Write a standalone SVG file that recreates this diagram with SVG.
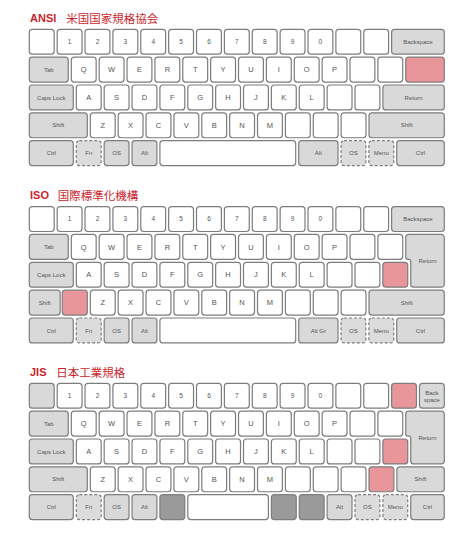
<svg xmlns="http://www.w3.org/2000/svg" width="474" height="549" viewBox="0 0 474 549">
<style>
rect,path{stroke:#7d7d7d;stroke-width:1.2}
rect{rx:3px;ry:3px}
.k{fill:#fff}
.m{fill:#d9d9d9}
.x{fill:#dcdcdc;stroke-dasharray:3 2}
.r{fill:#e8969a}
.d{fill:#9a9a9a}
text{font-family:"Liberation Sans",Arial,sans-serif;fill:#555;text-anchor:middle}
.l{font-size:7.5px}
.n{font-size:6.5px}
.s{font-size:6px}
.h{font-family:"Liberation Sans",Arial,sans-serif;font-weight:bold;font-size:11px;fill:#cc1f2d;text-anchor:start}
.c{font-family:"Noto Sans CJK JP",sans-serif;font-size:11.5px;fill:#cc1f2d;text-anchor:start}
</style>
<rect width="474" height="549" fill="#fff" style="stroke:none"/>

<!-- ================= ANSI ================= -->
<g id="ansi-title"><text class="h" x="30" y="22">ANSI</text><text class="c" x="66.2" y="22.5">米国国家規格協会</text></g>
<g id="ansi">
<g id="a-grave"><rect class="k" x="29.3" y="29.3" width="24.87" height="24.9"/></g>
<g id="a-1"><rect class="k" x="57.17" y="29.3" width="24.87" height="24.9"/><text class="n" x="69.6" y="44.05">1</text></g>
<g id="a-2"><rect class="k" x="85.04" y="29.3" width="24.87" height="24.9"/><text class="n" x="97.47" y="44.05">2</text></g>
<g id="a-3"><rect class="k" x="112.91" y="29.3" width="24.87" height="24.9"/><text class="n" x="125.34" y="44.05">3</text></g>
<g id="a-4"><rect class="k" x="140.78" y="29.3" width="24.87" height="24.9"/><text class="n" x="153.21" y="44.05">4</text></g>
<g id="a-5"><rect class="k" x="168.65" y="29.3" width="24.87" height="24.9"/><text class="n" x="181.08" y="44.05">5</text></g>
<g id="a-6"><rect class="k" x="196.52" y="29.3" width="24.87" height="24.9"/><text class="n" x="208.95" y="44.05">6</text></g>
<g id="a-7"><rect class="k" x="224.39" y="29.3" width="24.87" height="24.9"/><text class="n" x="236.82" y="44.05">7</text></g>
<g id="a-8"><rect class="k" x="252.26" y="29.3" width="24.87" height="24.9"/><text class="n" x="264.69" y="44.05">8</text></g>
<g id="a-9"><rect class="k" x="280.13" y="29.3" width="24.87" height="24.9"/><text class="n" x="292.56" y="44.05">9</text></g>
<g id="a-0"><rect class="k" x="308.0" y="29.3" width="24.87" height="24.9"/><text class="n" x="320.43" y="44.05">0</text></g>
<g id="a-minus"><rect class="k" x="335.87" y="29.3" width="24.87" height="24.9"/></g>
<g id="a-equal"><rect class="k" x="363.74" y="29.3" width="24.87" height="24.9"/></g>
<g id="a-bksp"><rect class="m" x="391.61" y="29.3" width="52.69" height="24.9"/><text class="s" x="417.95" y="43.85">Backspace</text></g>

<g id="a-tab"><rect class="m" x="29.3" y="57.15" width="39" height="24.9"/><text class="s" x="48.8" y="71.7">Tab</text></g>
<g id="a-q"><rect class="k" x="71.3" y="57.15" width="24.87" height="24.9"/><text class="l" x="83.73" y="72.3">Q</text></g>
<g id="a-w"><rect class="k" x="99.17" y="57.15" width="24.87" height="24.9"/><text class="l" x="111.6" y="72.3">W</text></g>
<g id="a-e"><rect class="k" x="127.04" y="57.15" width="24.87" height="24.9"/><text class="l" x="139.47" y="72.3">E</text></g>
<g id="a-r"><rect class="k" x="154.91" y="57.15" width="24.87" height="24.9"/><text class="l" x="167.34" y="72.3">R</text></g>
<g id="a-t"><rect class="k" x="182.78" y="57.15" width="24.87" height="24.9"/><text class="l" x="195.21" y="72.3">T</text></g>
<g id="a-y"><rect class="k" x="210.65" y="57.15" width="24.87" height="24.9"/><text class="l" x="223.08" y="72.3">Y</text></g>
<g id="a-u"><rect class="k" x="238.52" y="57.15" width="24.87" height="24.9"/><text class="l" x="250.95" y="72.3">U</text></g>
<g id="a-i"><rect class="k" x="266.39" y="57.15" width="24.87" height="24.9"/><text class="l" x="278.82" y="72.3">I</text></g>
<g id="a-o"><rect class="k" x="294.26" y="57.15" width="24.87" height="24.9"/><text class="l" x="306.69" y="72.3">O</text></g>
<g id="a-p"><rect class="k" x="322.13" y="57.15" width="24.87" height="24.9"/><text class="l" x="334.56" y="72.3">P</text></g>
<g id="a-lbr"><rect class="k" x="350.0" y="57.15" width="24.87" height="24.9"/></g>
<g id="a-rbr"><rect class="k" x="377.87" y="57.15" width="24.87" height="24.9"/></g>
<g id="a-bsl"><rect class="r" x="405.74" y="57.15" width="38.56" height="24.9"/></g>

<g id="a-caps"><rect class="m" x="29.3" y="85.0" width="44" height="24.9"/><text class="s" x="51.3" y="99.55">Caps Lock</text></g>
<g id="a-a"><rect class="k" x="76.3" y="85.0" width="24.87" height="24.9"/><text class="l" x="88.73" y="100.15">A</text></g>
<g id="a-s"><rect class="k" x="104.17" y="85.0" width="24.87" height="24.9"/><text class="l" x="116.6" y="100.15">S</text></g>
<g id="a-d"><rect class="k" x="132.04" y="85.0" width="24.87" height="24.9"/><text class="l" x="144.47" y="100.15">D</text></g>
<g id="a-f"><rect class="k" x="159.91" y="85.0" width="24.87" height="24.9"/><text class="l" x="172.34" y="100.15">F</text></g>
<g id="a-g"><rect class="k" x="187.78" y="85.0" width="24.87" height="24.9"/><text class="l" x="200.21" y="100.15">G</text></g>
<g id="a-h"><rect class="k" x="215.65" y="85.0" width="24.87" height="24.9"/><text class="l" x="228.08" y="100.15">H</text></g>
<g id="a-j"><rect class="k" x="243.52" y="85.0" width="24.87" height="24.9"/><text class="l" x="255.95" y="100.15">J</text></g>
<g id="a-k"><rect class="k" x="271.39" y="85.0" width="24.87" height="24.9"/><text class="l" x="283.82" y="100.15">K</text></g>
<g id="a-l"><rect class="k" x="299.26" y="85.0" width="24.87" height="24.9"/><text class="l" x="311.69" y="100.15">L</text></g>
<g id="a-semi"><rect class="k" x="327.13" y="85.0" width="24.87" height="24.9"/></g>
<g id="a-quot"><rect class="k" x="355.0" y="85.0" width="24.87" height="24.9"/></g>
<g id="a-ret"><rect class="m" x="382.87" y="85.0" width="61.43" height="24.9"/><text class="s" x="413.6" y="99.55">Return</text></g>

<g id="a-lshift"><rect class="m" x="29.3" y="112.85" width="58" height="24.9"/><text class="s" x="58.3" y="127.4">Shift</text></g>
<g id="a-z"><rect class="k" x="90.3" y="112.85" width="24.87" height="24.9"/><text class="l" x="102.73" y="128.0">Z</text></g>
<g id="a-x"><rect class="k" x="118.17" y="112.85" width="24.87" height="24.9"/><text class="l" x="130.6" y="128.0">X</text></g>
<g id="a-c"><rect class="k" x="146.04" y="112.85" width="24.87" height="24.9"/><text class="l" x="158.47" y="128.0">C</text></g>
<g id="a-v"><rect class="k" x="173.91" y="112.85" width="24.87" height="24.9"/><text class="l" x="186.34" y="128.0">V</text></g>
<g id="a-b"><rect class="k" x="201.78" y="112.85" width="24.87" height="24.9"/><text class="l" x="214.21" y="128.0">B</text></g>
<g id="a-n"><rect class="k" x="229.65" y="112.85" width="24.87" height="24.9"/><text class="l" x="242.08" y="128.0">N</text></g>
<g id="a-m"><rect class="k" x="257.52" y="112.85" width="24.87" height="24.9"/><text class="l" x="269.95" y="128.0">M</text></g>
<g id="a-comma"><rect class="k" x="285.39" y="112.85" width="24.87" height="24.9"/></g>
<g id="a-period"><rect class="k" x="313.26" y="112.85" width="24.87" height="24.9"/></g>
<g id="a-slash"><rect class="k" x="341.13" y="112.85" width="24.87" height="24.9"/></g>
<g id="a-rshift"><rect class="m" x="369.0" y="112.85" width="75.3" height="24.9"/><text class="s" x="406.65" y="127.4">Shift</text></g>

<g id="a-lctrl"><rect class="m" x="29.3" y="140.7" width="44" height="24.9"/><text class="s" x="51.3" y="155.25">Ctrl</text></g>
<g id="a-fn"><rect class="x" x="76.3" y="140.7" width="24.87" height="24.9"/><text class="s" x="88.73" y="155.25">Fn</text></g>
<g id="a-los"><rect class="m" x="104.17" y="140.7" width="24.87" height="24.9"/><text class="s" x="116.6" y="155.25">OS</text></g>
<g id="a-lalt"><rect class="m" x="132.04" y="140.7" width="24.87" height="24.9"/><text class="s" x="144.47" y="155.25">Alt</text></g>
<g id="a-space"><rect class="k" x="159.91" y="140.7" width="135.8" height="24.9"/></g>
<g id="a-ralt"><rect class="m" x="298.7" y="140.7" width="39.3" height="24.9"/><text class="s" x="318.35" y="155.25">Alt</text></g>
<g id="a-ros"><rect class="x" x="341.0" y="140.7" width="24.87" height="24.9"/><text class="s" x="353.43" y="155.25">OS</text></g>
<g id="a-menu"><rect class="x" x="368.87" y="140.7" width="24.87" height="24.9"/><text class="s" x="381.3" y="155.25">Menu</text></g>
<g id="a-rctrl"><rect class="m" x="396.74" y="140.7" width="47.56" height="24.9"/><text class="s" x="420.52" y="155.25">Ctrl</text></g>
</g>

<!-- ================= ISO ================= -->
<g id="iso-title"><text class="h" x="30" y="199">ISO</text><text class="c" x="57.8" y="199.5">国際標準化機構</text></g>
<g id="iso">
<g id="i-grave"><rect class="k" x="29.3" y="206.6" width="24.87" height="24.9"/></g>
<g id="i-1"><rect class="k" x="57.17" y="206.6" width="24.87" height="24.9"/><text class="n" x="69.6" y="221.35">1</text></g>
<g id="i-2"><rect class="k" x="85.04" y="206.6" width="24.87" height="24.9"/><text class="n" x="97.47" y="221.35">2</text></g>
<g id="i-3"><rect class="k" x="112.91" y="206.6" width="24.87" height="24.9"/><text class="n" x="125.34" y="221.35">3</text></g>
<g id="i-4"><rect class="k" x="140.78" y="206.6" width="24.87" height="24.9"/><text class="n" x="153.21" y="221.35">4</text></g>
<g id="i-5"><rect class="k" x="168.65" y="206.6" width="24.87" height="24.9"/><text class="n" x="181.08" y="221.35">5</text></g>
<g id="i-6"><rect class="k" x="196.52" y="206.6" width="24.87" height="24.9"/><text class="n" x="208.95" y="221.35">6</text></g>
<g id="i-7"><rect class="k" x="224.39" y="206.6" width="24.87" height="24.9"/><text class="n" x="236.82" y="221.35">7</text></g>
<g id="i-8"><rect class="k" x="252.26" y="206.6" width="24.87" height="24.9"/><text class="n" x="264.69" y="221.35">8</text></g>
<g id="i-9"><rect class="k" x="280.13" y="206.6" width="24.87" height="24.9"/><text class="n" x="292.56" y="221.35">9</text></g>
<g id="i-0"><rect class="k" x="308.0" y="206.6" width="24.87" height="24.9"/><text class="n" x="320.43" y="221.35">0</text></g>
<g id="i-minus"><rect class="k" x="335.87" y="206.6" width="24.87" height="24.9"/></g>
<g id="i-equal"><rect class="k" x="363.74" y="206.6" width="24.87" height="24.9"/></g>
<g id="i-bksp"><rect class="m" x="391.61" y="206.6" width="52.69" height="24.9"/><text class="s" x="417.95" y="221.15">Backspace</text></g>

<g id="i-tab"><rect class="m" x="29.3" y="234.45" width="39" height="24.9"/><text class="s" x="48.8" y="249.0">Tab</text></g>
<g id="i-q"><rect class="k" x="71.3" y="234.45" width="24.87" height="24.9"/><text class="l" x="83.73" y="249.6">Q</text></g>
<g id="i-w"><rect class="k" x="99.17" y="234.45" width="24.87" height="24.9"/><text class="l" x="111.6" y="249.6">W</text></g>
<g id="i-e"><rect class="k" x="127.04" y="234.45" width="24.87" height="24.9"/><text class="l" x="139.47" y="249.6">E</text></g>
<g id="i-r"><rect class="k" x="154.91" y="234.45" width="24.87" height="24.9"/><text class="l" x="167.34" y="249.6">R</text></g>
<g id="i-t"><rect class="k" x="182.78" y="234.45" width="24.87" height="24.9"/><text class="l" x="195.21" y="249.6">T</text></g>
<g id="i-y"><rect class="k" x="210.65" y="234.45" width="24.87" height="24.9"/><text class="l" x="223.08" y="249.6">Y</text></g>
<g id="i-u"><rect class="k" x="238.52" y="234.45" width="24.87" height="24.9"/><text class="l" x="250.95" y="249.6">U</text></g>
<g id="i-i"><rect class="k" x="266.39" y="234.45" width="24.87" height="24.9"/><text class="l" x="278.82" y="249.6">I</text></g>
<g id="i-o"><rect class="k" x="294.26" y="234.45" width="24.87" height="24.9"/><text class="l" x="306.69" y="249.6">O</text></g>
<g id="i-p"><rect class="k" x="322.13" y="234.45" width="24.87" height="24.9"/><text class="l" x="334.56" y="249.6">P</text></g>
<g id="i-lbr"><rect class="k" x="350.0" y="234.45" width="24.87" height="24.9"/></g>
<g id="i-rbr"><rect class="k" x="377.87" y="234.45" width="24.87" height="24.9"/></g>
<g id="i-ret"><path class="m" d="M408.74 234.45H441.3A3 3 0 0 1 444.3 237.45V284.2A3 3 0 0 1 441.3 287.2H413.74A3 3 0 0 1 410.74 284.2V261.35A2 2 0 0 0 408.74 259.35H407.74A2 2 0 0 1 405.74 257.35V237.45A3 3 0 0 1 408.74 234.45Z"/><text class="s" x="427.5" y="262.9">Return</text></g>

<g id="i-caps"><rect class="m" x="29.3" y="262.3" width="44" height="24.9"/><text class="s" x="51.3" y="276.85">Caps Lock</text></g>
<g id="i-a"><rect class="k" x="76.3" y="262.3" width="24.87" height="24.9"/><text class="l" x="88.73" y="277.45">A</text></g>
<g id="i-s"><rect class="k" x="104.17" y="262.3" width="24.87" height="24.9"/><text class="l" x="116.6" y="277.45">S</text></g>
<g id="i-d"><rect class="k" x="132.04" y="262.3" width="24.87" height="24.9"/><text class="l" x="144.47" y="277.45">D</text></g>
<g id="i-f"><rect class="k" x="159.91" y="262.3" width="24.87" height="24.9"/><text class="l" x="172.34" y="277.45">F</text></g>
<g id="i-g"><rect class="k" x="187.78" y="262.3" width="24.87" height="24.9"/><text class="l" x="200.21" y="277.45">G</text></g>
<g id="i-h"><rect class="k" x="215.65" y="262.3" width="24.87" height="24.9"/><text class="l" x="228.08" y="277.45">H</text></g>
<g id="i-j"><rect class="k" x="243.52" y="262.3" width="24.87" height="24.9"/><text class="l" x="255.95" y="277.45">J</text></g>
<g id="i-k"><rect class="k" x="271.39" y="262.3" width="24.87" height="24.9"/><text class="l" x="283.82" y="277.45">K</text></g>
<g id="i-l"><rect class="k" x="299.26" y="262.3" width="24.87" height="24.9"/><text class="l" x="311.69" y="277.45">L</text></g>
<g id="i-semi"><rect class="k" x="327.13" y="262.3" width="24.87" height="24.9"/></g>
<g id="i-quot"><rect class="k" x="355.0" y="262.3" width="24.87" height="24.9"/></g>
<g id="i-hash"><rect class="r" x="382.87" y="262.3" width="24.87" height="24.9"/></g>

<g id="i-lshift"><rect class="m" x="29.3" y="290.15" width="30.9" height="24.9"/><text class="s" x="44.75" y="304.7">Shift</text></g>
<g id="i-iso"><rect class="r" x="62.3" y="290.15" width="25" height="24.9"/></g>
<g id="i-z"><rect class="k" x="90.3" y="290.15" width="24.87" height="24.9"/><text class="l" x="102.73" y="305.3">Z</text></g>
<g id="i-x"><rect class="k" x="118.17" y="290.15" width="24.87" height="24.9"/><text class="l" x="130.6" y="305.3">X</text></g>
<g id="i-c"><rect class="k" x="146.04" y="290.15" width="24.87" height="24.9"/><text class="l" x="158.47" y="305.3">C</text></g>
<g id="i-v"><rect class="k" x="173.91" y="290.15" width="24.87" height="24.9"/><text class="l" x="186.34" y="305.3">V</text></g>
<g id="i-b"><rect class="k" x="201.78" y="290.15" width="24.87" height="24.9"/><text class="l" x="214.21" y="305.3">B</text></g>
<g id="i-n"><rect class="k" x="229.65" y="290.15" width="24.87" height="24.9"/><text class="l" x="242.08" y="305.3">N</text></g>
<g id="i-m"><rect class="k" x="257.52" y="290.15" width="24.87" height="24.9"/><text class="l" x="269.95" y="305.3">M</text></g>
<g id="i-comma"><rect class="k" x="285.39" y="290.15" width="24.87" height="24.9"/></g>
<g id="i-period"><rect class="k" x="313.26" y="290.15" width="24.87" height="24.9"/></g>
<g id="i-slash"><rect class="k" x="341.13" y="290.15" width="24.87" height="24.9"/></g>
<g id="i-rshift"><rect class="m" x="369.0" y="290.15" width="75.3" height="24.9"/><text class="s" x="406.65" y="304.7">Shift</text></g>

<g id="i-lctrl"><rect class="m" x="29.3" y="318.0" width="44" height="24.9"/><text class="s" x="51.3" y="332.55">Ctrl</text></g>
<g id="i-fn"><rect class="x" x="76.3" y="318.0" width="24.87" height="24.9"/><text class="s" x="88.73" y="332.55">Fn</text></g>
<g id="i-los"><rect class="m" x="104.17" y="318.0" width="24.87" height="24.9"/><text class="s" x="116.6" y="332.55">OS</text></g>
<g id="i-lalt"><rect class="m" x="132.04" y="318.0" width="24.87" height="24.9"/><text class="s" x="144.47" y="332.55">Alt</text></g>
<g id="i-space"><rect class="k" x="159.91" y="318.0" width="135.8" height="24.9"/></g>
<g id="i-altgr"><rect class="m" x="298.7" y="318.0" width="39.3" height="24.9"/><text class="s" x="318.35" y="332.55">Alt Gr</text></g>
<g id="i-ros"><rect class="x" x="341.0" y="318.0" width="24.87" height="24.9"/><text class="s" x="353.43" y="332.55">OS</text></g>
<g id="i-menu"><rect class="x" x="368.87" y="318.0" width="24.87" height="24.9"/><text class="s" x="381.3" y="332.55">Menu</text></g>
<g id="i-rctrl"><rect class="m" x="396.74" y="318.0" width="47.56" height="24.9"/><text class="s" x="420.52" y="332.55">Ctrl</text></g>
</g>

<!-- ================= JIS ================= -->
<g id="jis-title"><text class="h" x="30" y="376.3">JIS</text><text class="c" x="56.2" y="376.8">日本工業規格</text></g>
<g id="jis">
<g id="j-hankaku"><rect class="m" x="29.3" y="383.3" width="24.87" height="24.9"/></g>
<g id="j-1"><rect class="k" x="57.17" y="383.3" width="24.87" height="24.9"/><text class="n" x="69.6" y="398.05">1</text></g>
<g id="j-2"><rect class="k" x="85.04" y="383.3" width="24.87" height="24.9"/><text class="n" x="97.47" y="398.05">2</text></g>
<g id="j-3"><rect class="k" x="112.91" y="383.3" width="24.87" height="24.9"/><text class="n" x="125.34" y="398.05">3</text></g>
<g id="j-4"><rect class="k" x="140.78" y="383.3" width="24.87" height="24.9"/><text class="n" x="153.21" y="398.05">4</text></g>
<g id="j-5"><rect class="k" x="168.65" y="383.3" width="24.87" height="24.9"/><text class="n" x="181.08" y="398.05">5</text></g>
<g id="j-6"><rect class="k" x="196.52" y="383.3" width="24.87" height="24.9"/><text class="n" x="208.95" y="398.05">6</text></g>
<g id="j-7"><rect class="k" x="224.39" y="383.3" width="24.87" height="24.9"/><text class="n" x="236.82" y="398.05">7</text></g>
<g id="j-8"><rect class="k" x="252.26" y="383.3" width="24.87" height="24.9"/><text class="n" x="264.69" y="398.05">8</text></g>
<g id="j-9"><rect class="k" x="280.13" y="383.3" width="24.87" height="24.9"/><text class="n" x="292.56" y="398.05">9</text></g>
<g id="j-0"><rect class="k" x="308.0" y="383.3" width="24.87" height="24.9"/><text class="n" x="320.43" y="398.05">0</text></g>
<g id="j-minus"><rect class="k" x="335.87" y="383.3" width="24.87" height="24.9"/></g>
<g id="j-caret"><rect class="k" x="363.74" y="383.3" width="24.87" height="24.9"/></g>
<g id="j-yen"><rect class="r" x="391.61" y="383.3" width="24.87" height="24.9"/></g>
<g id="j-bksp"><rect class="m" x="419.48" y="383.3" width="24.82" height="24.9"/><text class="s" x="431.9" y="394.6">Back</text><text class="s" x="431.9" y="401.6">space</text></g>

<g id="j-tab"><rect class="m" x="29.3" y="411.15" width="39" height="24.9"/><text class="s" x="48.8" y="425.7">Tab</text></g>
<g id="j-q"><rect class="k" x="71.3" y="411.15" width="24.87" height="24.9"/><text class="l" x="83.73" y="426.3">Q</text></g>
<g id="j-w"><rect class="k" x="99.17" y="411.15" width="24.87" height="24.9"/><text class="l" x="111.6" y="426.3">W</text></g>
<g id="j-e"><rect class="k" x="127.04" y="411.15" width="24.87" height="24.9"/><text class="l" x="139.47" y="426.3">E</text></g>
<g id="j-r"><rect class="k" x="154.91" y="411.15" width="24.87" height="24.9"/><text class="l" x="167.34" y="426.3">R</text></g>
<g id="j-t"><rect class="k" x="182.78" y="411.15" width="24.87" height="24.9"/><text class="l" x="195.21" y="426.3">T</text></g>
<g id="j-y"><rect class="k" x="210.65" y="411.15" width="24.87" height="24.9"/><text class="l" x="223.08" y="426.3">Y</text></g>
<g id="j-u"><rect class="k" x="238.52" y="411.15" width="24.87" height="24.9"/><text class="l" x="250.95" y="426.3">U</text></g>
<g id="j-i"><rect class="k" x="266.39" y="411.15" width="24.87" height="24.9"/><text class="l" x="278.82" y="426.3">I</text></g>
<g id="j-o"><rect class="k" x="294.26" y="411.15" width="24.87" height="24.9"/><text class="l" x="306.69" y="426.3">O</text></g>
<g id="j-p"><rect class="k" x="322.13" y="411.15" width="24.87" height="24.9"/><text class="l" x="334.56" y="426.3">P</text></g>
<g id="j-at"><rect class="k" x="350.0" y="411.15" width="24.87" height="24.9"/></g>
<g id="j-lbr"><rect class="k" x="377.87" y="411.15" width="24.87" height="24.9"/></g>
<g id="j-ret"><path class="m" d="M408.74 411.15H441.3A3 3 0 0 1 444.3 414.15V460.9A3 3 0 0 1 441.3 463.9H413.74A3 3 0 0 1 410.74 460.9V438.05A2 2 0 0 0 408.74 436.05H407.74A2 2 0 0 1 405.74 434.05V414.15A3 3 0 0 1 408.74 411.15Z"/><text class="s" x="427.5" y="439.6">Return</text></g>

<g id="j-caps"><rect class="m" x="29.3" y="439.0" width="44" height="24.9"/><text class="s" x="51.3" y="453.55">Caps Lock</text></g>
<g id="j-a"><rect class="k" x="76.3" y="439.0" width="24.87" height="24.9"/><text class="l" x="88.73" y="454.15">A</text></g>
<g id="j-s"><rect class="k" x="104.17" y="439.0" width="24.87" height="24.9"/><text class="l" x="116.6" y="454.15">S</text></g>
<g id="j-d"><rect class="k" x="132.04" y="439.0" width="24.87" height="24.9"/><text class="l" x="144.47" y="454.15">D</text></g>
<g id="j-f"><rect class="k" x="159.91" y="439.0" width="24.87" height="24.9"/><text class="l" x="172.34" y="454.15">F</text></g>
<g id="j-g"><rect class="k" x="187.78" y="439.0" width="24.87" height="24.9"/><text class="l" x="200.21" y="454.15">G</text></g>
<g id="j-h"><rect class="k" x="215.65" y="439.0" width="24.87" height="24.9"/><text class="l" x="228.08" y="454.15">H</text></g>
<g id="j-j"><rect class="k" x="243.52" y="439.0" width="24.87" height="24.9"/><text class="l" x="255.95" y="454.15">J</text></g>
<g id="j-k"><rect class="k" x="271.39" y="439.0" width="24.87" height="24.9"/><text class="l" x="283.82" y="454.15">K</text></g>
<g id="j-l"><rect class="k" x="299.26" y="439.0" width="24.87" height="24.9"/><text class="l" x="311.69" y="454.15">L</text></g>
<g id="j-semi"><rect class="k" x="327.13" y="439.0" width="24.87" height="24.9"/></g>
<g id="j-colon"><rect class="k" x="355.0" y="439.0" width="24.87" height="24.9"/></g>
<g id="j-rbr"><rect class="r" x="382.87" y="439.0" width="24.87" height="24.9"/></g>

<g id="j-lshift"><rect class="m" x="29.3" y="466.85" width="58" height="24.9"/><text class="s" x="58.3" y="481.4">Shift</text></g>
<g id="j-z"><rect class="k" x="90.3" y="466.85" width="24.87" height="24.9"/><text class="l" x="102.73" y="482.0">Z</text></g>
<g id="j-x"><rect class="k" x="118.17" y="466.85" width="24.87" height="24.9"/><text class="l" x="130.6" y="482.0">X</text></g>
<g id="j-c"><rect class="k" x="146.04" y="466.85" width="24.87" height="24.9"/><text class="l" x="158.47" y="482.0">C</text></g>
<g id="j-v"><rect class="k" x="173.91" y="466.85" width="24.87" height="24.9"/><text class="l" x="186.34" y="482.0">V</text></g>
<g id="j-b"><rect class="k" x="201.78" y="466.85" width="24.87" height="24.9"/><text class="l" x="214.21" y="482.0">B</text></g>
<g id="j-n"><rect class="k" x="229.65" y="466.85" width="24.87" height="24.9"/><text class="l" x="242.08" y="482.0">N</text></g>
<g id="j-m"><rect class="k" x="257.52" y="466.85" width="24.87" height="24.9"/><text class="l" x="269.95" y="482.0">M</text></g>
<g id="j-comma"><rect class="k" x="285.39" y="466.85" width="24.87" height="24.9"/></g>
<g id="j-period"><rect class="k" x="313.26" y="466.85" width="24.87" height="24.9"/></g>
<g id="j-slash"><rect class="k" x="341.13" y="466.85" width="24.87" height="24.9"/></g>
<g id="j-ro"><rect class="r" x="369.0" y="466.85" width="24.87" height="24.9"/></g>
<g id="j-rshift"><rect class="m" x="396.87" y="466.85" width="47.43" height="24.9"/><text class="s" x="420.6" y="481.4">Shift</text></g>

<g id="j-lctrl"><rect class="m" x="29.3" y="494.7" width="44" height="24.9"/><text class="s" x="51.3" y="509.25">Ctrl</text></g>
<g id="j-fn"><rect class="x" x="76.3" y="494.7" width="24.87" height="24.9"/><text class="s" x="88.73" y="509.25">Fn</text></g>
<g id="j-los"><rect class="m" x="104.17" y="494.7" width="24.87" height="24.9"/><text class="s" x="116.6" y="509.25">OS</text></g>
<g id="j-lalt"><rect class="m" x="132.04" y="494.7" width="24.87" height="24.9"/><text class="s" x="144.47" y="509.25">Alt</text></g>
<g id="j-muhenkan"><rect class="d" x="159.91" y="494.7" width="24.87" height="24.9"/></g>
<g id="j-space"><rect class="k" x="187.78" y="494.7" width="80.61" height="24.9"/></g>
<g id="j-henkan"><rect class="d" x="271.39" y="494.7" width="24.87" height="24.9"/></g>
<g id="j-kana"><rect class="d" x="299.26" y="494.7" width="24.87" height="24.9"/></g>
<g id="j-ralt"><rect class="m" x="327.13" y="494.7" width="24.87" height="24.9"/><text class="s" x="339.56" y="509.25">Alt</text></g>
<g id="j-ros"><rect class="x" x="355.0" y="494.7" width="24.87" height="24.9"/><text class="s" x="367.43" y="509.25">OS</text></g>
<g id="j-menu"><rect class="x" x="382.87" y="494.7" width="24.87" height="24.9"/><text class="s" x="395.3" y="509.25">Menu</text></g>
<g id="j-rctrl"><rect class="m" x="410.74" y="494.7" width="33.56" height="24.9"/><text class="s" x="427.52" y="509.25">Ctrl</text></g>
</g>
<g id="connectors"/>
</svg>
